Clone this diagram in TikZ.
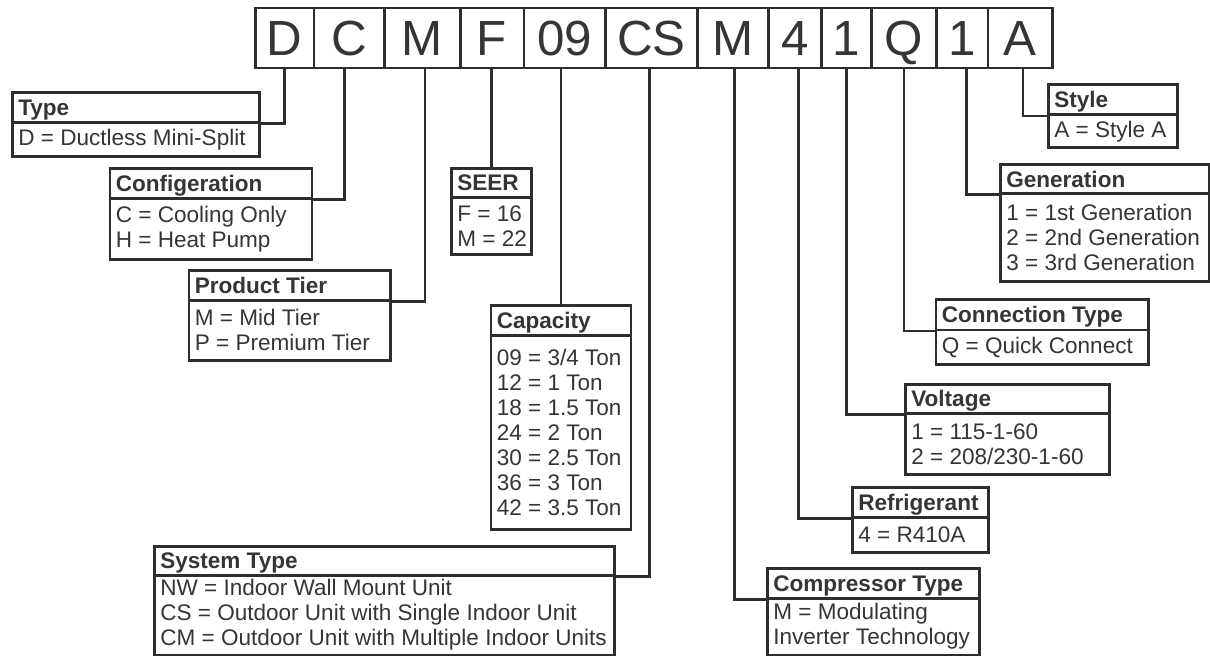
\documentclass[tikz,border=0pt]{standalone}
\usepackage{fontspec}
\setmainfont{Liberation Sans}
\definecolor{ln}{HTML}{2E2E2E}
\definecolor{tx}{HTML}{353535}
\tikzset{
 cell/.style={draw=ln, line width=1.9pt, inner sep=0pt, minimum height=45pt, font=\fontsize{37}{40}\selectfont, text=tx, text height=26.3pt, text depth=0pt},
 boxframe/.style={draw=ln, line width=1.9pt, inner sep=0pt},
 htext/.style={inner sep=0pt, font=\bfseries\fontsize{16.9}{18.75}\selectfont, text=tx, text height=12.1pt, text depth=0pt},
 btext/.style={inner sep=0pt, font=\fontsize{16.9}{18.75}\selectfont, text=tx, align=left},
 conn/.style={draw=ln, line width=1.9pt},
}
\newcommand\mycell[4]{%
 \pgfmathsetmacro\cw{(#3-#2)*0.75}%
 \node[cell, minimum width=\cw pt, anchor=north west] (#1) at (#2,6.7) {#4};}
\newcommand\mybox[8]{%
 \pgfmathsetmacro\bw{(#4-#2)*0.75}%
 \pgfmathsetmacro\hh{(#5-#3)*0.75}%
 \pgfmathsetmacro\bh{(#6-#5)*0.75}%
 \node[boxframe, minimum width=\bw pt, minimum height=\hh pt, anchor=north west] (#1h) at (#2,#3) {};
 \node[htext, anchor=west] (#1ht) at ([xshift=5.3pt]#1h.west) {#7};
 \node[boxframe, minimum width=\bw pt, minimum height=\bh pt, anchor=north west] (#1b) at (#2,#5) {};
 \node[btext, anchor=west] (#1bt) at ([xshift=5.3pt]#1b.west) {#8};
}
\begin{document}
\begin{tikzpicture}[x=0.75pt,y=-0.75pt]
\useasboundingbox (0,0) rectangle (1210,656);
\fill[white] (0,0) rectangle (1210,656);
% code row
\mycell{c1}{254}{312.7}{D}
\mycell{c2}{312.7}{383}{C}
\mycell{c3}{383}{459}{M}
\mycell{c4}{459}{522.5}{F}
\mycell{c5}{522.5}{604}{09}
\mycell{c6}{604}{696}{CS}
\mycell{c7}{696}{767}{M}
\mycell{c8}{767}{820}{4}
\mycell{c9}{820}{870}{1}
\mycell{c10}{870}{935}{Q}
\mycell{c11}{935}{986.5}{1}
\mycell{c12}{986.5}{1051}{A}
% boxes
\mybox{typ}{11}{91}{258}{121}{155.5}{Type}{D = Ductless Mini-Split}
\mybox{cfg}{108.5}{167.5}{310.5}{197}{258}{Configeration}{C = Cooling Only\\H = Heat Pump}
\mybox{prd}{187.5}{269}{389}{299}{359}{Product Tier}{M = Mid Tier\\P = Premium Tier}
\mybox{see}{450}{167}{530}{196}{253}{SEER}{F = 16\\M = 22}
\mybox{cap}{489.5}{304}{629.5}{334}{528}{Capacity}{09 = 3/4 Ton\\12 = 1 Ton\\18 = 1.5 Ton\\24 = 2 Ton\\30 = 2.5 Ton\\36 = 3 Ton\\42 = 3.5 Ton}
\mybox{sys}{153}{545}{613}{574}{653.5}{System Type}{NW = Indoor Wall Mount Unit\\CS = Outdoor Unit with Single Indoor Unit\\CM = Outdoor Unit with Multiple Indoor Units}
\mybox{cmp}{766}{567}{978}{597}{653.5}{Compressor Type}{M = Modulating\\Inverter Technology}
\mybox{ref}{851}{486}{987}{516}{551}{Refrigerant}{4 = R410A}
\mybox{vol}{904}{383}{1108}{412}{473}{Voltage}{1 = 115-1-60\\2 = 208/230-1-60}
\mybox{con}{934.5}{298}{1147}{328.5}{363}{Connection Type}{Q = Quick Connect}
\mybox{gen}{999}{163.5}{1207.5}{192}{280}{Generation}{1 = 1st Generation\\2 = 2nd Generation\\3 = 3rd Generation}
\mybox{sty}{1047}{83.5}{1176}{113.5}{146.5}{Style}{A = Style A}
% connectors
\draw[conn] (c1.south) |- (typh.south east);
\draw[conn] ([xshift=-3.6pt]c2.south) |- (cfgh.south east);
\draw[conn] ([xshift=2pt]c3.south) |- (prdh.south east);
\draw[conn] (seeh.north |- c4.south) -- (seeh.north);
\draw[conn] (caph.north |- c5.south) -- (caph.north);
\draw[conn] ([xshift=-1.5pt]c6.south) |- (sysh.south east);
\draw[conn] ([xshift=1.1pt]c7.south) |- (cmph.south west);
\draw[conn] ([xshift=2.6pt]c8.south) |- (refh.south west);
\draw[conn] (c9.south) |- (volh.south west);
\draw[conn] (c10.south) |- (conh.south west);
\draw[conn] ([xshift=3.2pt]c11.south) |- (genh.south west);
\draw[conn] ([xshift=2.4pt]c12.south) |- (styh.south west);
\end{tikzpicture}
\end{document}
